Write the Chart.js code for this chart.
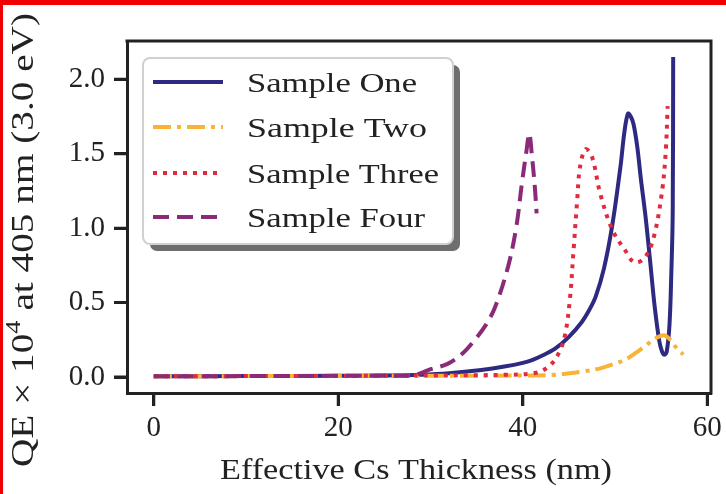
<!DOCTYPE html>
<html>
<head>
<meta charset="utf-8">
<script src="https://cdn.jsdelivr.net/npm/chart.js@4.4.1/dist/chart.umd.min.js"></script>
<style>
  html, body { margin: 0; padding: 0; background: #fff; }
  #wrap { position: relative; width: 726px; height: 494px; }
  #wrap canvas { position: absolute; left: 0; top: 0; }
  .edge { position: absolute; background: #f00000; }
</style>
</head>
<body>
<div id="wrap">
  <canvas id="qeChart" width="726" height="494"></canvas>
  <div class="edge" style="left:0;top:0;width:726px;height:5px"></div>
  <div class="edge" style="left:0;top:0;width:3px;height:494px"></div>
</div>
<script>
// QE at 405 nm vs. effective Cs thickness, four samples
const seriesNames = ['Sample One', 'Sample Two', 'Sample Three', 'Sample Four'];

const oneX = [0, 10, 20, 25, 29, 32, 35.5, 38, 40, 41, 42.3, 43.5, 45, 46.4, 47.2, 47.9, 48.8, 49.7, 50.6, 51.0, 51.4, 51.7, 52.0, 52.4, 52.8, 53.3, 53.8, 54.3, 54.8, 55.1, 55.35, 55.6, 55.9, 56.1, 56.25, 56.3];
const oneY = [0.005, 0.006, 0.008, 0.01, 0.015, 0.025, 0.047, 0.07, 0.095, 0.114, 0.15, 0.19, 0.27, 0.37, 0.45, 0.54, 0.73, 1.02, 1.42, 1.64, 1.77, 1.75, 1.70, 1.55, 1.33, 1.08, 0.78, 0.47, 0.24, 0.17, 0.15, 0.17, 0.35, 0.7, 1.1, 2.15];

const twoX = [0, 10, 20, 30, 40, 43.5, 46.4, 48.5, 50, 51.2, 52.2, 53.3, 54.4, 55.3, 56.0, 56.6, 57.4];
const twoY = [0.005, 0.006, 0.007, 0.009, 0.01, 0.015, 0.036, 0.06, 0.09, 0.12, 0.16, 0.21, 0.26, 0.28, 0.25, 0.2, 0.15];

const threeX = [0, 10, 20, 30, 38, 41.3, 42.8, 43.9, 44.6, 45.1, 45.5, 45.9, 46.2, 46.8, 47.5, 48.4, 49.7, 51.1, 52.1, 53.2, 54.2, 55.1, 55.5, 55.7];
const threeY = [0.005, 0.006, 0.007, 0.01, 0.015, 0.027, 0.07, 0.16, 0.29, 0.52, 0.85, 1.19, 1.41, 1.53, 1.48, 1.23, 0.99, 0.85, 0.77, 0.8, 0.94, 1.25, 1.52, 1.82];

const fourX = [0, 10, 20, 25, 28.2, 30.1, 31.9, 33.5, 34.8, 36, 37, 38.4, 39.3, 39.9, 40.4, 40.7, 41.0, 41.3, 41.5];
const fourY = [0.005, 0.006, 0.008, 0.01, 0.013, 0.054, 0.09, 0.16, 0.25, 0.35, 0.47, 0.74, 1.01, 1.30, 1.52, 1.635, 1.48, 1.28, 1.10];

const xTicks = [0, 20, 40, 60];
const yTicks = [0, 0.5, 1.0, 1.5, 2.0];

const colors = ['#2e2a82', '#f9b335', '#e12a3d', '#8a2a78'];
const dashes = [[], [18, 6, 4, 6], [4, 6], [16, 8]];

const serif = '"Liberation Serif"';
const ink = '#222';

function toPoints(xs, ys) {
    return xs.map((x, i) => ({ x: x, y: ys[i] }));
}

const allX = [oneX, twoX, threeX, fourX];
const allY = [oneY, twoY, threeY, fourY];

const datasets = seriesNames.map((name, i) => ({
    label: name,
    data: toPoints(allX[i], allY[i]),
    borderColor: colors[i],
    borderWidth: 4,
    borderDash: dashes[i],
    borderJoinStyle: 'round',
    pointRadius: 0,
    tension: 0.35,
    order: 4 - i   // later samples drawn on top
}));

// text drawn with a horizontal stretch so it fills a given width
function stretchedParts(ctx, parts, startX, baseY, width) {
    let natural = 0;
    parts.forEach(p => {
        ctx.font = p.size + 'px ' + serif;
        natural += ctx.measureText(p.text).width;
    });
    const sx = width / natural;
    ctx.save();
    ctx.translate(startX, baseY);
    ctx.scale(sx, 1);
    let cx = 0;
    parts.forEach(p => {
        ctx.font = p.size + 'px ' + serif;
        ctx.fillText(p.text, cx, -(p.rise || 0));
        cx += ctx.measureText(p.text).width;
    });
    ctx.restore();
}

const framePlugin = {
    id: 'framePlugin',
    afterDraw(chart) {
        const ctx = chart.ctx;
        const a = chart.chartArea;
        const xs = chart.scales.x, ys = chart.scales.y;
        ctx.save();

        // top and right spines plus outward tick marks
        ctx.strokeStyle = ink;
        ctx.lineWidth = 3;
        ctx.beginPath();
        ctx.moveTo(a.left - 1.5, a.top);
        ctx.lineTo(a.right, a.top);
        ctx.lineTo(a.right, a.bottom + 1.5);
        xTicks.forEach(v => {
            const px = xs.getPixelForValue(v);
            ctx.moveTo(px, a.bottom);
            ctx.lineTo(px, a.bottom + 13);
        });
        yTicks.forEach(v => {
            const py = ys.getPixelForValue(v);
            ctx.moveTo(a.left, py);
            ctx.lineTo(a.left - 13, py);
        });
        ctx.stroke();

        // legend box with drop shadow
        const bx = a.left + 16, by = a.top + 17, bw = 310, bh = 186;
        ctx.fillStyle = '#6e6e6e';
        ctx.beginPath();
        ctx.roundRect(bx + 7, by + 7, bw, bh, 7);
        ctx.fill();
        ctx.fillStyle = '#ffffff';
        ctx.strokeStyle = '#d0d0d0';
        ctx.lineWidth = 2;
        ctx.beginPath();
        ctx.roundRect(bx, by, bw, bh, 7);
        ctx.fill();
        ctx.stroke();

        const rowY = [82, 127, 173, 217];
        ctx.textBaseline = 'alphabetic';
        ctx.fillStyle = ink;
        const textW = [170, 180, 192, 178];
        datasets.forEach((ds, i) => {
            ctx.save();
            ctx.strokeStyle = ds.borderColor;
            ctx.lineWidth = 4;
            ctx.setLineDash(ds.borderDash);
            ctx.beginPath();
            ctx.moveTo(153, rowY[i]);
            ctx.lineTo(223, rowY[i]);
            ctx.stroke();
            ctx.restore();
            stretchedParts(ctx, [{ text: ds.label, size: 28 }], 247, rowY[i] + 10, textW[i]);
        });

        // x axis title
        ctx.fillStyle = ink;
        stretchedParts(ctx, [{ text: 'Effective Cs Thickness (nm)', size: 30 }], 220, 479, 392);

        // y axis title, rotated
        ctx.save();
        ctx.translate(33, 467);
        ctx.rotate(-Math.PI / 2);
        stretchedParts(ctx, [
            { text: 'QE × 10', size: 31 },
            { text: '4', size: 21, rise: 13 },
            { text: ' at 405 nm (3.0 eV)', size: 31 }
        ], 0, 0, 454);
        ctx.restore();

        ctx.restore();
    }
};

const tickFont = { family: serif, size: 29 };
const tickGrid = { display: true, drawOnChartArea: false, drawTicks: true, tickLength: 13, tickWidth: 3, tickColor: ink, color: ink };

new Chart(document.getElementById('qeChart'), {
    type: 'line',
    data: { datasets: datasets },
    options: {
        responsive: false,
        animation: false,
        layout: { padding: { top: 41, right: 15, left: 0, bottom: 0 } },
        plugins: { legend: { display: false }, tooltip: { enabled: false } },
        scales: {
            x: {
                type: 'linear',
                min: -2.9,
                max: 60.4,
                afterFit: s => { s.height = 101; s.paddingLeft = 0; s.paddingRight = 0; },
                afterBuildTicks: s => { s.ticks = xTicks.map(v => ({ value: v })); },
                grid: tickGrid,
                border: { display: true, color: ink, width: 3 },
                ticks: { font: tickFont, color: ink, padding: 5, maxRotation: 0, callback: v => String(v) }
            },
            y: {
                type: 'linear',
                min: -0.1075,
                max: 2.2575,
                afterFit: s => { s.width = 127; s.paddingTop = 0; s.paddingBottom = 0; },
                afterBuildTicks: s => { s.ticks = yTicks.map(v => ({ value: v })); },
                grid: tickGrid,
                border: { display: true, color: ink, width: 3 },
                ticks: { font: tickFont, color: ink, padding: 9, callback: v => v.toFixed(1) }
            }
        }
    },
    plugins: [framePlugin]
});
</script>
</body>
</html>
